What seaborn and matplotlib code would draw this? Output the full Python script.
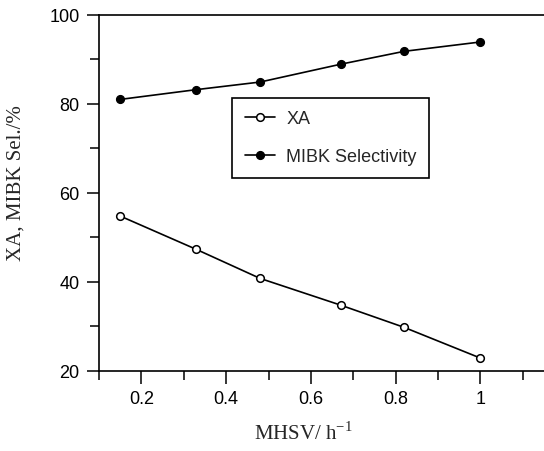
import matplotlib
matplotlib.use("Agg")
import matplotlib.pyplot as plt
import seaborn as sns
import pandas as pd
from matplotlib.ticker import MultipleLocator

# Data
mhsv = [0.15, 0.33, 0.48, 0.67, 0.82, 1.0]
xa = [54.8, 47.3, 40.8, 34.8, 29.8, 22.9]
mibk_sel = [81.0, 83.2, 84.9, 88.9, 91.8, 93.9]
x_ticks = [0.2, 0.4, 0.6, 0.8, 1.0]
x_tick_labels = ["0.2", "0.4", "0.6", "0.8", "1"]
y_ticks = [20, 40, 60, 80, 100]

df = pd.DataFrame({"MHSV": mhsv, "XA": xa, "MIBK Selectivity": mibk_sel})

sns.set_style("ticks")
plt.rcParams["font.family"] = ["Liberation Sans", "DejaVu Sans"]

fig = plt.figure(figsize=(5.44, 4.52), dpi=100)
ax = fig.add_axes([0.182, 0.177, 0.818, 0.788])

sns.lineplot(data=df, x="MHSV", y="XA", ax=ax, color="black", linewidth=1.2,
             marker="o", markersize=5.5, markerfacecolor="white",
             markeredgecolor="black", markeredgewidth=1.1, label="XA")
sns.lineplot(data=df, x="MHSV", y="MIBK Selectivity", ax=ax, color="black", linewidth=1.2,
             marker="o", markersize=5.5, markerfacecolor="black",
             markeredgecolor="black", markeredgewidth=1.1, label="MIBK Selectivity")

ax.set_xlim(0.1, 1.15)
ax.set_ylim(20, 100)
ax.set_xticks(x_ticks)
ax.set_xticklabels(x_tick_labels)
ax.xaxis.set_minor_locator(MultipleLocator(0.1))
ax.set_yticks(y_ticks)
ax.yaxis.set_minor_locator(MultipleLocator(10))

ax.tick_params(axis="both", which="major", direction="out", length=9, width=1.1,
               labelsize=13, color="black", labelcolor="black", pad=5)
ax.tick_params(axis="both", which="minor", direction="out", length=6.5, width=1.1,
               color="black")

for side in ["left", "bottom", "top"]:
    ax.spines[side].set_visible(True)
    ax.spines[side].set_color("black")
    ax.spines[side].set_linewidth(1.2)
ax.spines["right"].set_visible(False)

ax.set_xlabel("MHSV/ h$^{\\mathregular{-1}}$", fontsize=15, family="Liberation Serif")
ax.set_ylabel("XA, MIBK Sel./%", fontsize=15, family="Liberation Serif")
ax.xaxis.set_label_coords(0.46, -0.14)
ax.yaxis.set_label_coords(-0.166, 0.53)

leg = ax.legend(loc="upper left", bbox_to_anchor=(0.299, 0.767), borderaxespad=0,
                frameon=True, fancybox=False, edgecolor="black", fontsize=13,
                handlelength=1.7, borderpad=0.7, labelspacing=1.15, handletextpad=0.6)
leg.get_frame().set_linewidth(1.2)
leg.get_frame().set_alpha(1)

fig.savefig("out.png", dpi=100)
